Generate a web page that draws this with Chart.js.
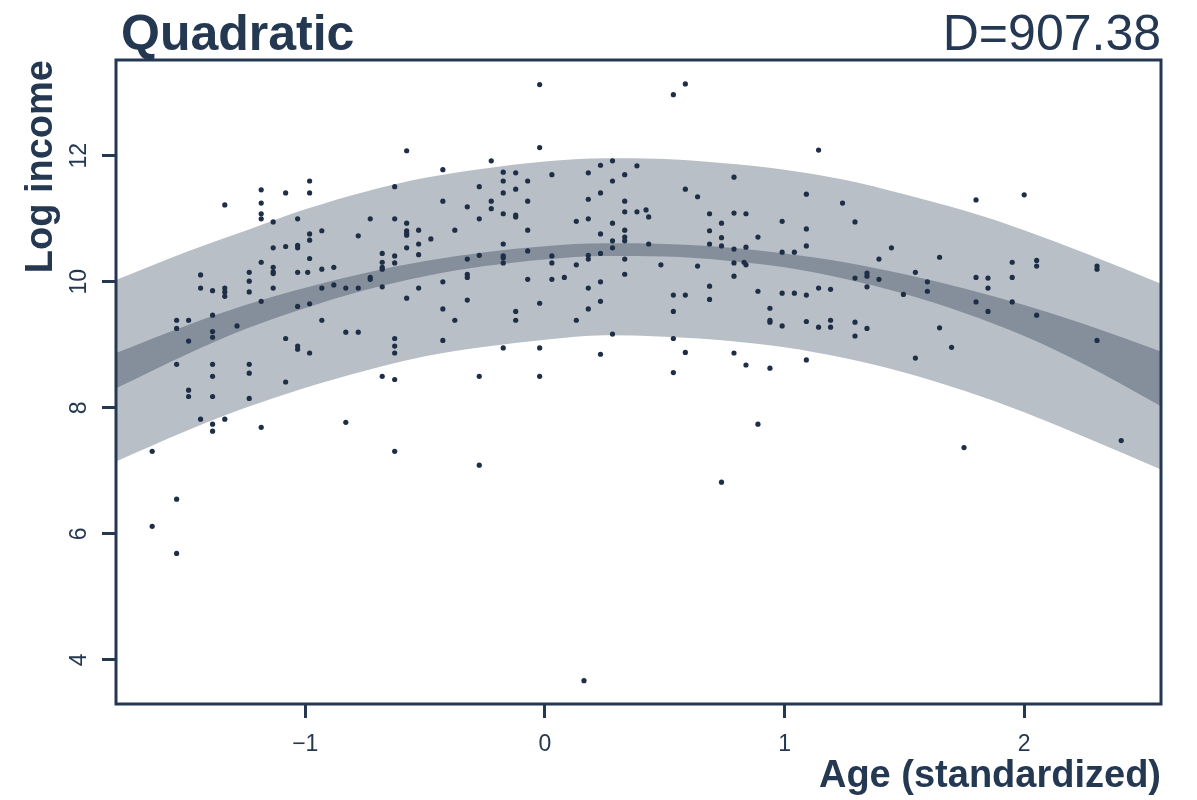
<!DOCTYPE html>
<html>
<head>
<meta charset="utf-8">
<title>Quadratic</title>
<script src="https://cdn.jsdelivr.net/npm/chart.js@4.4.1/dist/chart.umd.min.js"></script>
<style>
  html, body { margin: 0; padding: 0; background: #fff; }
  #wrap { width: 1197px; height: 800px; }
</style>
</head>
<body>
<div id="wrap"><canvas id="quadChart" width="1197" height="800"></canvas></div>
<script>
// axis limits and ticks
const ageRange = [-1.79, 2.571];
const incomeRange = [3.30, 13.52];
const ageTicks = [-1, 0, 1, 2];
const incomeTicks = [4, 6, 8, 10, 12];

// bands, read at these ages
const bandAge   = [-1.79, -1.5, -1.25, -1.0, -0.75, -0.5, -0.25, 0, 0.25, 0.5, 0.75, 1.0, 1.25, 1.5, 1.75, 2.0, 2.25, 2.571];
const wideUpper = [10.03, 10.47, 10.81, 11.15, 11.43, 11.65, 11.80, 11.91, 11.96, 11.95, 11.88, 11.78, 11.62, 11.39, 11.13, 10.82, 10.46, 9.97];
const wideLower = [7.15, 7.63, 8.00, 8.32, 8.59, 8.82, 8.97, 9.08, 9.15, 9.13, 9.07, 8.96, 8.79, 8.56, 8.27, 7.93, 7.54, 7.02];
const meanUpper = [8.87, 9.30, 9.63, 9.905, 10.14, 10.33, 10.47, 10.565, 10.61, 10.60, 10.55, 10.45, 10.31, 10.12, 9.895, 9.63, 9.33, 8.895];
const meanLower = [8.31, 8.84, 9.25, 9.585, 9.87, 10.09, 10.25, 10.355, 10.41, 10.40, 10.34, 10.23, 10.05, 9.81, 9.505, 9.14, 8.69, 8.025];

// observations: age (standardized) and log income
const ageObs = [
  -1.336,-1.184,-1.184,-1.184,-1.184,-1.082,-0.982,-0.982,-1.134,-1.032,
  -0.729,-0.982,-0.982,-0.931,-0.779,-1.134,-1.082,-1.032,-1.032,-0.982,
  -1.184,-0.679,-0.679,-0.679,-0.679,-1.134,-1.134,-1.134,-1.032,-0.990,
  -0.931,-0.881,-1.234,-1.234,-1.234,-1.437,-1.437,-1.387,-1.336,-1.336,
  -1.336,-1.134,-0.931,-0.881,-0.831,-0.779,-0.729,-0.729,-0.679,-1.184,
  -1.032,-0.982,-1.387,-1.537,-1.487,-1.537,-1.285,-0.931,
  -1.387,-1.387,-1.487,-1.082,-1.032,-1.032,-0.982,-0.831,-0.779,-1.537,
  -1.387,-1.234,-1.234,-1.387,-1.082,-1.487,-1.487,-1.387,-1.234,-1.437,
  -1.387,-1.387,-1.336,-1.184,-0.831,-0.679,-1.639,-1.537,-1.639,-1.537,
  -0.022,-0.022,-0.577,-0.224,-0.426,-0.627,-0.274,-0.174,-0.174,-0.174,
  -0.122,-0.122,-0.072,0.029,0.181,0.232,0.282,0.282,0.333,0.384,
  0.232,0.181,-0.426,-0.324,-0.224,-0.224,-0.072,-0.174,-0.122,-0.122,
  0.333,0.333,0.384,0.422,-0.627,-0.274,-0.577,-0.577,-0.577,-0.577,
  -0.527,-0.527,-0.476,-0.376,-0.072,0.131,0.181,0.232,0.282,0.333,
  0.333,0.333,0.282,0.282,-0.627,-0.627,-0.577,-0.527,-0.324,-0.274,
  -0.174,-0.174,-0.174,-0.174,-0.072,0.029,0.029,0.181,0.181,0.232,
  0.131,0.333,0.333,-0.324,-0.324,-0.527,-0.426,-0.072,0.029,0.081,
  0.181,0.232,-0.577,-0.324,-0.426,-0.376,-0.122,-0.122,-0.022,0.131,
  0.181,0.232,
  -0.627,-0.627,-0.627,-0.426,-0.174,-0.022,0.282,0.232,-0.627,-0.274,-0.022,-0.627,-0.274,
  0.586,0.536,1.142,0.789,0.586,0.637,1.091,1.242,0.433,0.687,
  0.789,0.839,0.737,0.990,1.294,0.687,1.091,0.737,0.889,0.433,
  0.687,0.737,0.789,0.839,1.091,0.990,1.041,1.446,1.394,0.484,
  0.637,0.789,0.831,0.839,0.789,1.294,1.344,1.344,1.394,1.344,
  1.496,0.687,0.536,0.586,0.687,0.889,0.990,1.041,1.091,1.142,
  1.192,0.536,0.939,0.939,0.939,0.990,1.091,1.142,1.192,1.192,
  1.294,1.344,
  1.294,0.536,0.586,0.536,0.789,0.839,0.939,1.091,0.889,0.737,
  1.799,2.000,1.647,1.546,1.596,1.596,1.799,1.849,1.849,1.950,
  1.950,2.052,2.052,2.304,2.304,1.799,1.950,1.849,2.052,1.647,
  1.697,1.546,2.304,1.749,2.405,0.163
];
const incomeObs = [
  11.22,11.46,11.25,11.08,11.00,11.41,11.60,11.41,10.95,11.00,
  11.00,10.76,10.66,10.81,10.73,10.54,10.56,10.58,10.54,10.37,
  10.31,10.45,10.31,10.23,10.20,10.23,10.16,10.13,10.15,10.15,
  10.20,10.23,10.15,10.01,9.84,10.11,9.90,9.86,9.90,9.84,
  9.77,9.90,9.90,9.95,9.90,9.90,10.07,10.04,9.92,9.69,
  9.61,9.65,9.47,9.39,9.39,9.26,9.30,9.39,
  9.21,9.12,9.06,9.10,8.98,8.93,8.87,9.20,9.20,8.69,
  8.69,8.69,8.55,8.50,8.41,8.28,8.18,8.18,8.15,7.82,
  7.74,7.63,7.82,7.69,7.77,8.50,7.31,6.55,6.12,5.69,
  13.13,12.13,12.08,11.92,11.78,11.51,11.51,11.74,11.60,11.41,
  11.73,11.47,11.60,11.70,11.73,11.85,11.92,11.60,11.70,11.84,
  11.41,11.31,11.28,11.19,11.28,11.16,11.28,11.08,11.06,11.03,
  11.28,11.11,11.11,11.14,11.00,11.00,10.93,10.81,10.77,10.74,
  10.82,10.60,10.68,10.82,10.82,10.96,11.00,10.76,10.93,10.82,
  10.71,10.65,10.65,10.54,10.41,10.30,10.54,10.43,10.36,10.42,
  10.60,10.41,10.38,10.30,10.49,10.41,10.30,10.42,10.36,10.45,
  10.27,10.36,10.12,10.12,10.07,9.90,10.00,10.04,10.04,10.07,
  9.90,10.00,9.74,9.71,9.57,9.39,9.53,9.39,9.66,9.39,
  9.57,9.69,
  9.10,8.98,8.87,9.07,8.95,8.95,9.17,8.85,8.45,8.50,8.50,7.31,7.09,
  13.14,12.97,12.09,11.66,11.47,11.35,11.39,11.25,11.03,11.08,
  11.09,11.08,10.93,10.96,10.95,10.81,10.84,10.70,10.71,10.60,
  10.60,10.57,10.52,10.55,10.57,10.47,10.47,10.54,10.36,10.27,
  10.25,10.30,10.31,10.27,10.09,10.06,10.14,10.09,10.04,9.92,
  9.80,9.93,9.79,9.79,9.72,9.85,9.82,9.82,9.79,9.90,
  9.88,9.53,9.58,9.39,9.36,9.30,9.37,9.28,9.39,9.28,
  9.36,9.26,
  9.14,9.10,8.88,8.56,8.87,8.68,8.63,8.76,7.74,6.82,
  11.30,11.38,10.39,10.15,10.00,9.85,10.07,10.06,9.90,10.31,
  10.07,10.34,10.25,10.25,10.20,9.68,9.68,9.53,9.47,9.27,
  8.96,8.79,9.07,7.37,7.48,3.67
];

const INK = '#243852';
const FONT = '"Liberation Sans", Arial, Helvetica, sans-serif';

const toXY = (xs, ys) => xs.map((x, i) => ({ x: x, y: ys[i] }));
const fmtAge = v => (v < 0 ? '\u2212' + Math.abs(v) : String(v));

// frame, rotated y labels and the titles
const decor = {
  id: 'decor',
  afterDraw(chart) {
    const { ctx, chartArea: a, scales } = chart;
    ctx.save();
    ctx.strokeStyle = INK;
    ctx.lineWidth = 3;
    ctx.strokeRect(a.left, a.top, a.right - a.left, a.bottom - a.top);

    ctx.fillStyle = INK;
    ctx.font = '23px ' + FONT;
    ctx.textAlign = 'center';
    ctx.textBaseline = 'middle';
    incomeTicks.forEach(v => {
      ctx.save();
      ctx.translate(80, scales.y.getPixelForValue(v));
      ctx.rotate(-Math.PI / 2);
      ctx.fillText(String(v), 0, 0);
      ctx.restore();
    });

    ctx.textBaseline = 'alphabetic';
    ctx.font = 'bold 50px ' + FONT;
    ctx.textAlign = 'left';
    ctx.fillText('Quadratic', a.left + 5, 50);
    ctx.font = '50px ' + FONT;
    ctx.textAlign = 'right';
    ctx.fillText('D=907.38', a.right, 50);

    ctx.font = 'bold 38px ' + FONT;
    ctx.textAlign = 'right';
    ctx.fillText('Age (standardized)', a.right, 787);

    ctx.save();
    ctx.translate(52, a.top);
    ctx.rotate(-Math.PI / 2);
    ctx.textAlign = 'right';
    ctx.fillText('Log income', 0, 0);
    ctx.restore();
    ctx.restore();
  }
};

new Chart(document.getElementById('quadChart').getContext('2d'), {
  type: 'scatter',
  data: {
    datasets: [
      {
        label: 'Observed',
        data: toXY(ageObs, incomeObs),
        pointRadius: 2.6,
        pointHoverRadius: 2.6,
        pointBackgroundColor: '#1d2e46',
        pointBorderWidth: 0,
        order: 0
      },
      {
        type: 'line',
        label: 'Mean upper',
        data: toXY(bandAge, meanUpper),
        borderWidth: 0,
        pointRadius: 0,
        cubicInterpolationMode: 'monotone',
        backgroundColor: '#858f9c',
        fill: '+1',
        order: 1
      },
      {
        type: 'line',
        label: 'Mean lower',
        data: toXY(bandAge, meanLower),
        borderWidth: 0,
        pointRadius: 0,
        cubicInterpolationMode: 'monotone',
        fill: false,
        order: 1
      },
      {
        type: 'line',
        label: 'Interval upper',
        data: toXY(bandAge, wideUpper),
        borderWidth: 0,
        pointRadius: 0,
        cubicInterpolationMode: 'monotone',
        backgroundColor: '#b9bfc7',
        fill: '+1',
        order: 2
      },
      {
        type: 'line',
        label: 'Interval lower',
        data: toXY(bandAge, wideLower),
        borderWidth: 0,
        pointRadius: 0,
        cubicInterpolationMode: 'monotone',
        fill: false,
        order: 2
      }
    ]
  },
  options: {
    responsive: false,
    animation: false,
    devicePixelRatio: 1,
    layout: { padding: { top: 60, right: 36, left: 0, bottom: 0 } },
    plugins: {
      legend: { display: false },
      title: { display: false },
      tooltip: { enabled: false }
    },
    scales: {
      x: {
        type: 'linear',
        min: ageRange[0],
        max: ageRange[1],
        afterBuildTicks: s => { s.ticks = ageTicks.map(v => ({ value: v })); },
        afterFit: s => { s.height = 96; },
        border: { display: false },
        grid: {
          drawOnChartArea: false,
          drawTicks: true,
          tickLength: 14,
          tickWidth: 3,
          tickColor: INK
        },
        ticks: {
          color: INK,
          font: { family: FONT, size: 23 },
          padding: 13,
          maxRotation: 0,
          callback: v => fmtAge(v)
        }
      },
      y: {
        type: 'linear',
        min: incomeRange[0],
        max: incomeRange[1],
        afterBuildTicks: s => { s.ticks = incomeTicks.map(v => ({ value: v })); },
        afterFit: s => { s.width = 116; },
        border: { display: false },
        grid: {
          drawOnChartArea: false,
          drawTicks: true,
          tickLength: 14,
          tickWidth: 3,
          tickColor: INK
        },
        ticks: {
          callback: () => ''
        }
      }
    }
  },
  plugins: [decor]
});
</script>
</body>
</html>
